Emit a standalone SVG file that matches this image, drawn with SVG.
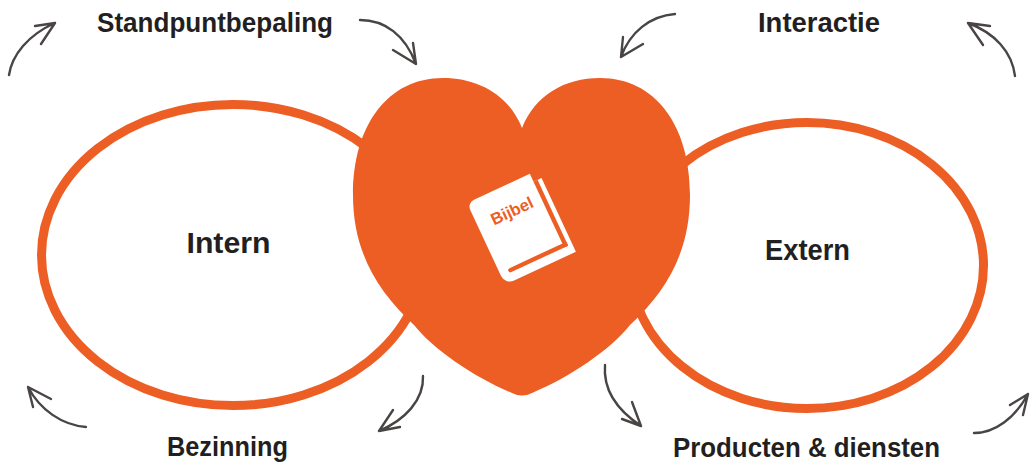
<svg xmlns="http://www.w3.org/2000/svg" width="1030" height="466" viewBox="0 0 1030 466">
<style>
.ring{fill:none;stroke:#EC5E24;stroke-width:9}
.lbl{font-family:"Liberation Sans",Arial,sans-serif;font-weight:bold;font-size:27px;fill:#231F20;text-anchor:middle}
.big{font-size:29px}
.arr{fill:none;stroke:#4A4545;stroke-width:2.4;stroke-linecap:round;stroke-linejoin:round}
</style>
<rect width="1030" height="466" fill="#fff"/>
<g id="intern">
<ellipse class="ring" cx="233" cy="255" rx="191.5" ry="150.5"/>
<text class="lbl big" x="228.5" y="253" textLength="84" lengthAdjust="spacingAndGlyphs">Intern</text>
</g>
<g id="extern">
<ellipse class="ring" cx="807" cy="265.5" rx="176.5" ry="143"/>
<text class="lbl big" x="807.5" y="260" textLength="85" lengthAdjust="spacingAndGlyphs">Extern</text>
</g>
<g id="heart">
<path d="M522 128 C535 95 565 78 600 78 C655 78 690 125 690 195 C690 250 668 290 630 325 C610 350 570 377 532 393 Q522 398 512 393 C474 377 434 350 414 325 C376 290 353 250 353 195 C353 125 388 78 443 78 C478 78 509 95 522 128 Z" fill="#EC5E24"/>
<g id="bijbel" transform="translate(467,203) rotate(-25) scale(1.1)">
<path d="M7 0 H63 V8 H71 V82 H9 A9 9 0 0 1 0 73 V7 A7 7 0 0 1 7 0 Z" fill="#fff"/>
<rect x="63" y="8" width="4" height="66" fill="#EC5E24"/>
<path d="M67 70 H10 A2 2 0 0 0 10 74 H67 Z" fill="#EC5E24"/>
<text x="34" y="29" font-family="Liberation Sans,Arial,sans-serif" font-weight="bold" font-size="15" fill="#EC5E24" text-anchor="middle">Bijbel</text>
</g>
</g>
<g id="labels">
<text class="lbl" x="215" y="32" textLength="236" lengthAdjust="spacingAndGlyphs">Standpuntbepaling</text>
<text class="lbl" x="819" y="32" textLength="122" lengthAdjust="spacingAndGlyphs">Interactie</text>
<text class="lbl" x="227.5" y="456" textLength="121" lengthAdjust="spacingAndGlyphs">Bezinning</text>
<text class="lbl" x="806.5" y="457" textLength="267" lengthAdjust="spacingAndGlyphs">Producten &amp; diensten</text>
</g>
<g id="connectors">
<path class="arr" d="M9 75 C12 55 28 35 55 23 M35 26 L55 23 L41 44"/>
<path class="arr" d="M360 20 C385 20 405 35 416 64 M393 50 L416 64 L413 43"/>
<path class="arr" d="M675 14 C650 16 630 32 621 57 M623 37 L621 57 L643 44"/>
<path class="arr" d="M1015 76 C1012 52 995 33 968 23 M990 26 L968 23 L983 45"/>
<path class="arr" d="M86 427 C62 425 40 410 28 387 M51 399 L28 387 L33 407"/>
<path class="arr" d="M423 376 C424 400 405 420 379 431 M393 410 L379 431 L400 427"/>
<path class="arr" d="M605 365 C603 390 617 410 641 426 M632 402 L641 426 L622 419"/>
<path class="arr" d="M974 433 C995 433 1015 418 1028 394 M1010 405 L1028 394 L1023 415"/>
</g>
</svg>
